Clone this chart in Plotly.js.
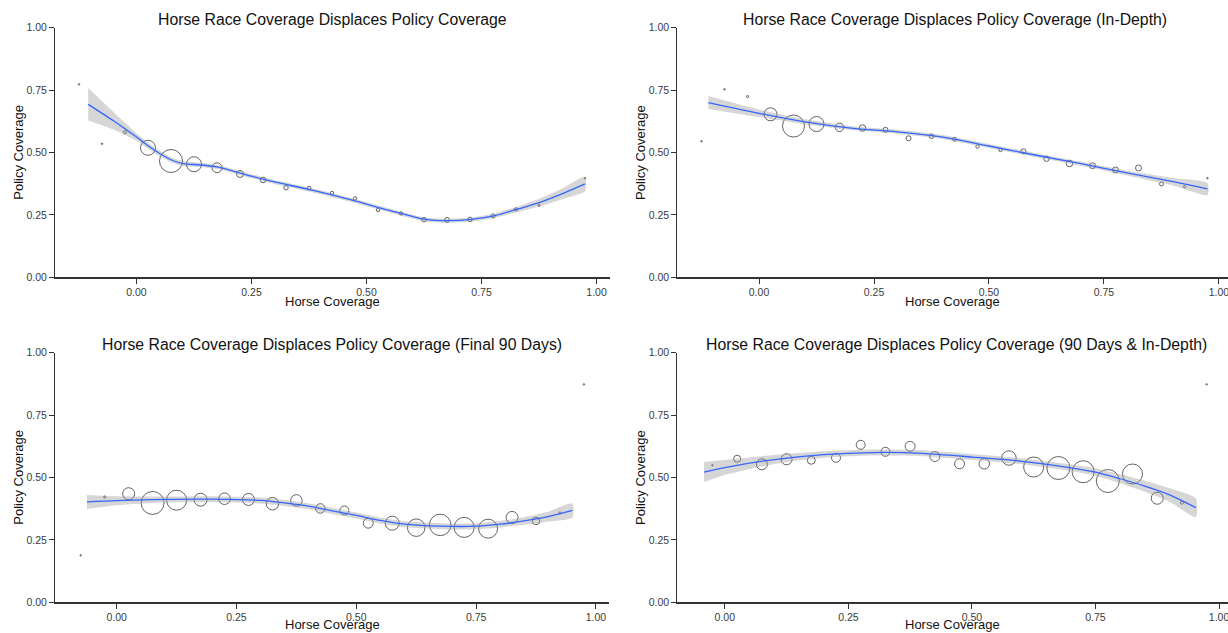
<!DOCTYPE html>
<html>
<head>
<meta charset="utf-8">
<script src="https://cdn.plot.ly/plotly-3.0.1.min.js"></script>
<style>
  html, body { margin: 0; padding: 0; background: #ffffff; }
  #chart { width: 1228px; height: 633px; }
</style>
</head>
<body>
<div id="chart"></div>
<script>
// ---- Binned means: horse-race share (bin centre), mean policy share, stories per bin ----
const allBinX = [-0.125, -0.075, -0.025, 0.025, 0.075, 0.125, 0.175, 0.225, 0.275, 0.325, 0.375,
                 0.425, 0.475, 0.525, 0.575, 0.625, 0.675, 0.725, 0.775, 0.825, 0.875, 0.925, 0.975];

// All coverage
const allBinX1 = allBinX.filter(v => v !== 0.925);
const policy1 = [0.773, 0.535, 0.581, 0.519, 0.466, 0.453, 0.439, 0.414, 0.390, 0.359, 0.357, 0.338,
                 0.316, 0.270, 0.256, 0.231, 0.230, 0.232, 0.246, 0.272, 0.288, 0.397];
const count1 = [1, 1, 4, 100, 235, 100, 44, 22, 14, 9, 7, 5, 5, 5, 5, 9, 11, 9, 7, 5, 2, 1];

// In-depth stories
const allBinX2 = allBinX;
const policy2 = [0.545, 0.753, 0.724, 0.653, 0.606, 0.614, 0.601, 0.598, 0.591, 0.557, 0.565, 0.553,
                 0.524, 0.510, 0.505, 0.475, 0.456, 0.447, 0.430, 0.438, 0.374, 0.363, 0.397];
const count2 = [1, 1, 2, 75, 215, 100, 32, 19, 11, 11, 9, 7, 5, 5, 11, 13, 19, 16, 16, 16, 7, 2, 1];

// Final 90 days
const allBinX3 = allBinX.slice(1);
const policy3 = [0.188, 0.422, 0.435, 0.398, 0.409, 0.411, 0.415, 0.412, 0.395, 0.408, 0.376, 0.368,
                 0.317, 0.317, 0.299, 0.310, 0.300, 0.295, 0.340, 0.326, 0.358, 0.873];
const count3 = [1, 2, 64, 235, 178, 75, 59, 64, 69, 59, 40, 36, 44, 87, 136, 205, 178, 160, 64, 25, 2, 1];

// Final 90 days, in-depth only
const allBinX4 = allBinX.slice(2);
const policy4 = [0.549, 0.575, 0.553, 0.573, 0.569, 0.579, 0.631, 0.603, 0.625, 0.584, 0.555, 0.555,
                 0.578, 0.542, 0.538, 0.523, 0.486, 0.514, 0.417, 0.399, 0.873];
const count4 = [1, 22, 54, 54, 28, 36, 36, 36, 44, 44, 44, 49, 93, 178, 235, 215, 235, 178, 64, 4, 1];

// ---- Loess fits with confidence band ----
const fitX1 = [-0.105, -0.05, 0, 0.033, 0.076, 0.105, 0.134, 0.178, 0.25, 0.3, 0.375, 0.467, 0.55,
               0.627, 0.678, 0.728, 0.779, 0.83, 0.88, 0.93, 0.975];
const fit1  = [0.693, 0.627, 0.562, 0.517, 0.47, 0.454, 0.451, 0.441, 0.405, 0.382, 0.352, 0.31, 0.268,
               0.232, 0.227, 0.232, 0.247, 0.274, 0.302, 0.338, 0.374];
const lo1   = [0.628, 0.592, 0.547, 0.505, 0.46, 0.444, 0.442, 0.433, 0.397, 0.374, 0.344, 0.302, 0.26,
               0.224, 0.219, 0.224, 0.238, 0.263, 0.286, 0.316, 0.345];
const hi1   = [0.758, 0.662, 0.577, 0.529, 0.48, 0.464, 0.46, 0.449, 0.413, 0.39, 0.36, 0.318, 0.276,
               0.24, 0.235, 0.24, 0.256, 0.285, 0.318, 0.36, 0.403];

const fitX2 = [-0.11, 0, 0.1, 0.2, 0.3, 0.4, 0.5, 0.6, 0.7, 0.8, 0.9, 0.975];
const fit2  = [0.700, 0.657, 0.623, 0.598, 0.583, 0.562, 0.526, 0.49, 0.455, 0.418, 0.383, 0.354];
const lo2   = [0.674, 0.642, 0.613, 0.59, 0.575, 0.554, 0.518, 0.482, 0.447, 0.408, 0.368, 0.330];
const hi2   = [0.726, 0.672, 0.633, 0.606, 0.591, 0.570, 0.534, 0.498, 0.463, 0.428, 0.398, 0.378];

const fitX3 = [-0.062, 0, 0.1, 0.2, 0.3, 0.35, 0.4, 0.45, 0.5, 0.55, 0.6, 0.7, 0.75, 0.8, 0.85, 0.9, 0.951];
const fit3  = [0.402, 0.407, 0.412, 0.413, 0.408, 0.398, 0.385, 0.366, 0.348, 0.328, 0.313, 0.304, 0.305,
               0.313, 0.326, 0.343, 0.368];
const lo3   = [0.374, 0.389, 0.4, 0.401, 0.396, 0.386, 0.373, 0.354, 0.336, 0.316, 0.301, 0.292, 0.293,
               0.3, 0.311, 0.323, 0.34];
const hi3   = [0.43, 0.425, 0.424, 0.425, 0.42, 0.41, 0.397, 0.378, 0.36, 0.34, 0.325, 0.316, 0.317,
               0.326, 0.341, 0.363, 0.396];

const fitX4 = [-0.042, 0, 0.1, 0.2, 0.3, 0.4, 0.5, 0.6, 0.7, 0.75, 0.8, 0.85, 0.9, 0.953];
const fit4  = [0.522, 0.54, 0.572, 0.592, 0.600, 0.597, 0.582, 0.565, 0.539, 0.522, 0.495, 0.465, 0.43, 0.379];
const lo4   = [0.482, 0.51, 0.554, 0.579, 0.588, 0.585, 0.57, 0.553, 0.526, 0.507, 0.477, 0.443, 0.403, 0.341];
const hi4   = [0.562, 0.57, 0.59, 0.605, 0.612, 0.609, 0.594, 0.577, 0.552, 0.537, 0.513, 0.487, 0.457, 0.417];

// ---- Text ----
const panelTitles = [
  'Horse Race Coverage Displaces Policy Coverage',
  'Horse Race Coverage Displaces Policy Coverage (In-Depth)',
  'Horse Race Coverage Displaces Policy Coverage (Final 90 Days)',
  'Horse Race Coverage Displaces Policy Coverage (90 Days & In-Depth)'
];
const xLabel = 'Horse Coverage';
const yLabel = 'Policy Coverage';

// ---- Figure assembly ----
const W = 1228, H = 633;
const FONT = '"Liberation Sans", Arial, Helvetica, sans-serif';

const panels = [
  { bx: allBinX1, by: policy1, n: count1, fx: fitX1, f: fit1, lo: lo1, hi: hi1,
    px: [55.2, 610], py: [27.7, 277.3], range: [-0.1767, 1.0293], titleX: 332.6, xLabGap: 24 },
  { bx: allBinX2, by: policy2, n: count2, fx: fitX2, f: fit2, lo: lo2, hi: hi2,
    px: [677.4, 1228], py: [27.7, 277.3], range: [-0.1774, 1.0196], titleX: 955, xLabGap: 24 },
  { bx: allBinX3, by: policy3, n: count3, fx: fitX3, f: fit3, lo: lo3, hi: hi3,
    px: [55.2, 609], py: [352.7, 602.3], range: [-0.1283, 1.0273], titleX: 332.1, xLabGap: 22 },
  { bx: allBinX4, by: policy4, n: count4, fx: fitX4, f: fit4, lo: lo4, hi: hi4,
    px: [677.4, 1228], py: [352.7, 602.3], range: [-0.0959, 1.0182], titleX: 956, xLabGap: 22 }
];

const traces = [];
const layout = {
  width: W, height: H,
  margin: { l: 0, r: 0, t: 0, b: 0 },
  paper_bgcolor: '#ffffff',
  plot_bgcolor: '#ffffff',
  showlegend: false,
  font: { family: FONT, color: '#333333' },
  annotations: []
};

const axisCommon = {
  showgrid: false, zeroline: false, showline: true,
  linecolor: '#333333', linewidth: 1.2,
  ticks: 'outside', ticklen: 5, tickwidth: 1, tickcolor: '#333333',
  tickfont: { family: FONT, size: 10.5, color: '#3a3a3a' },
  tickformat: '.2f', tick0: 0, dtick: 0.25,
  ticklabeloverflow: 'allow',
  fixedrange: true
};

panels.forEach((p, i) => {
  const k = i + 1;
  const xa = k === 1 ? 'x' : 'x' + k;
  const ya = k === 1 ? 'y' : 'y' + k;

  // bubbles
  traces.push({
    type: 'scatter', mode: 'markers', xaxis: xa, yaxis: ya,
    x: p.bx, y: p.by,
    marker: {
      symbol: 'circle-open',
      size: p.n.map(v => Math.max(1.5, 1.5 * Math.sqrt(v))),
      color: '#222222',
      line: { width: 1, color: '#222222' }
    },
    hoverinfo: 'x+y'
  });

  // confidence band
  traces.push({
    type: 'scatter', mode: 'lines', xaxis: xa, yaxis: ya,
    x: p.fx.concat(p.fx.slice().reverse()),
    y: p.hi.concat(p.lo.slice().reverse()),
    fill: 'toself', fillcolor: 'rgba(153,153,153,0.4)',
    line: { width: 0, shape: 'spline', smoothing: 0.6 },
    hoverinfo: 'skip'
  });

  // fitted line
  traces.push({
    type: 'scatter', mode: 'lines', xaxis: xa, yaxis: ya,
    x: p.fx, y: p.f,
    line: { color: '#3366FF', width: 1.3, shape: 'spline', smoothing: 0.8 },
    hoverinfo: 'x+y'
  });

  const xKey = k === 1 ? 'xaxis' : 'xaxis' + k;
  const yKey = k === 1 ? 'yaxis' : 'yaxis' + k;
  layout[xKey] = Object.assign({}, axisCommon, {
    domain: [p.px[0] / W, p.px[1] / W],
    range: p.range,
    anchor: ya
  });
  layout[yKey] = Object.assign({}, axisCommon, {
    domain: [1 - p.py[1] / H, 1 - p.py[0] / H],
    range: [0, 1],
    anchor: xa
  });

  // panel title
  layout.annotations.push({
    xref: 'paper', yref: 'paper',
    x: p.titleX / W, y: 1 - (p.py[0] - 8) / H,
    xanchor: 'center', yanchor: 'middle',
    text: panelTitles[i], showarrow: false,
    font: { family: FONT, size: 15.8, color: '#111111' }
  });
  // x axis label
  layout.annotations.push({
    xref: 'paper', yref: 'paper',
    x: (p.px[0] + p.px[1]) / 2 / W, y: 1 - (p.py[1] + p.xLabGap) / H,
    xanchor: 'center', yanchor: 'middle',
    text: xLabel, showarrow: false,
    font: { family: FONT, size: 13, color: '#111111' }
  });
  // y axis label
  layout.annotations.push({
    xref: 'paper', yref: 'paper',
    x: (p.px[0] - 37) / W, y: 1 - (p.py[0] + p.py[1]) / 2 / H,
    xanchor: 'center', yanchor: 'middle', textangle: -90,
    text: yLabel, showarrow: false,
    font: { family: FONT, size: 13, color: '#111111' }
  });
});

Plotly.newPlot('chart', traces, layout, { displayModeBar: false, staticPlot: true });
</script>
</body>
</html>
